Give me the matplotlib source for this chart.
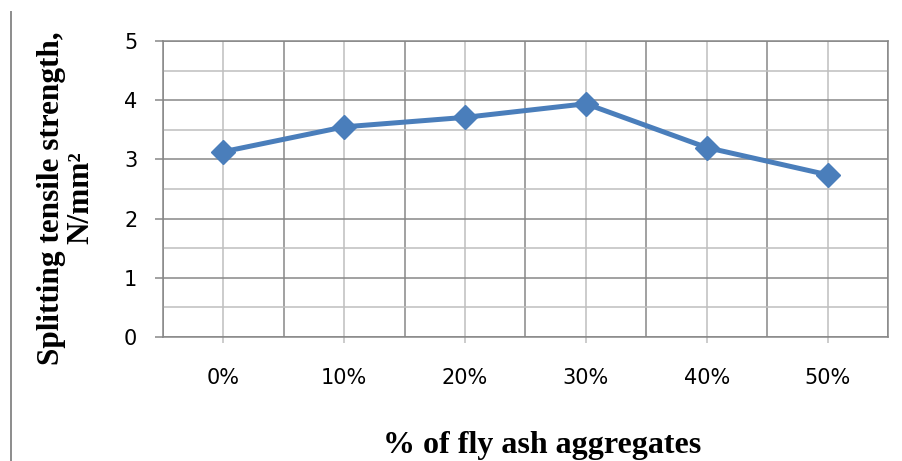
import matplotlib
matplotlib.use("Agg")
import matplotlib.pyplot as plt
from matplotlib.lines import Line2D
from matplotlib.ticker import MultipleLocator, FixedLocator

categories = ["0%", "10%", "20%", "30%", "40%", "50%"]
strength = [3.13, 3.55, 3.71, 3.94, 3.20, 2.74]

x_title = "% of fly ash aggregates"
y_title = "Splitting tensile strength,\nN/mm²"

dark_grid = "#878787"
light_grid = "#bfbfbf"
line_blue = "#4a7ebb"

fig = plt.figure(figsize=(9.03, 4.61), dpi=100)
ax = fig.add_axes([163 / 903, 1 - 337 / 461, (888 - 163) / 903, (337 - 41) / 461])

xs = list(range(len(categories)))
ax.plot(xs, strength, color=line_blue, linewidth=3.6, marker="D",
        markersize=12, markerfacecolor=line_blue, markeredgecolor=line_blue,
        zorder=5, clip_on=False)

ax.set_xlim(-0.5, len(categories) - 0.5)
ax.set_ylim(0, 5)

# y grid: integers dark, halves light
ax.yaxis.set_major_locator(MultipleLocator(1))
ax.yaxis.set_minor_locator(MultipleLocator(0.5))
ax.grid(True, which="major", axis="y", color=dark_grid, linewidth=1.1)
ax.grid(True, which="minor", axis="y", color=light_grid, linewidth=1.1)

# x grid: category centres light, boundaries dark
ax.xaxis.set_major_locator(FixedLocator(xs))
ax.set_xticklabels(categories)
ax.xaxis.set_minor_locator(FixedLocator([i - 0.5 for i in range(len(categories) + 1)]))
ax.grid(True, which="major", axis="x", color=light_grid, linewidth=1.1)
ax.grid(True, which="minor", axis="x", color=dark_grid, linewidth=1.1)
ax.set_axisbelow(True)

for side in ["left", "right", "top", "bottom"]:
    ax.spines[side].set_color(dark_grid)
    ax.spines[side].set_linewidth(1.1)

ax.tick_params(axis="y", which="major", length=5.5, width=1.1, color=dark_grid,
               direction="out", pad=13, labelsize=15)
ax.tick_params(axis="x", which="major", length=4, width=1.1, color=light_grid,
               direction="out", pad=18, labelsize=15)
ax.tick_params(which="minor", length=0)
for lab in ax.get_xticklabels() + ax.get_yticklabels():
    lab.set_fontfamily("DejaVu Sans")

fig.text(542 / 903, 1 - 453 / 461, x_title, ha="center", va="baseline",
         fontsize=23, fontweight="bold", family="Liberation Serif")
fig.text(66 / 903, 1 - 198 / 461, y_title, ha="center", va="center",
         rotation=90, fontsize=22.5, fontweight="bold", family="Liberation Serif",
         multialignment="center", linespacing=1.0)

# thin frame line on the left edge
fig.add_artist(Line2D([11 / 903, 11 / 903], [0, 1 - 12 / 461],
                      transform=fig.transFigure, color="#8c8c8c", linewidth=1.4))

fig.savefig("out.png", dpi=100)
